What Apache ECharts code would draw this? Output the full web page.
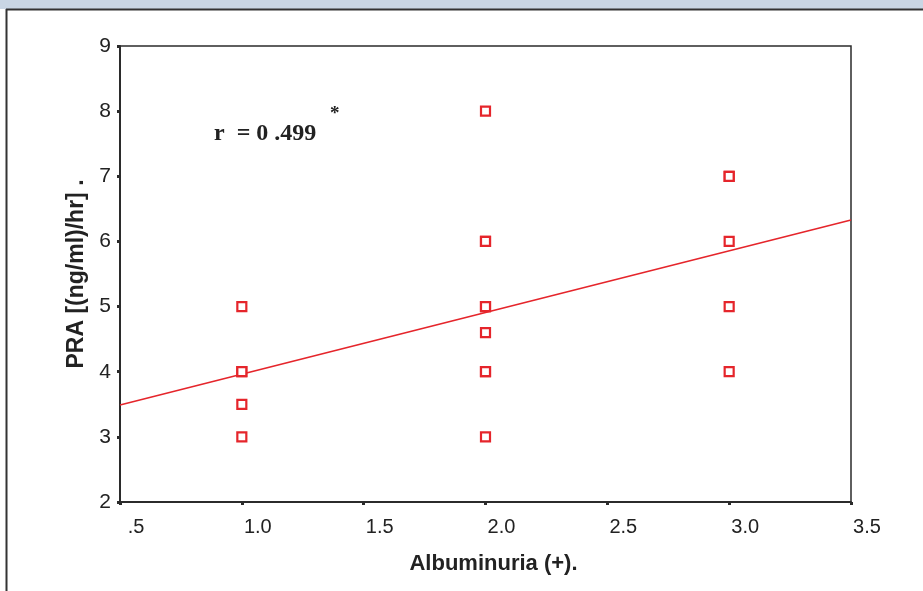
<!DOCTYPE html>
<html>
<head>
<meta charset="utf-8">
<script src="https://cdn.jsdelivr.net/npm/echarts@6/dist/echarts.min.js"></script>
<style>
html,body{margin:0;padding:0;background:#fff;}
#main{width:923px;height:591px;}
</style>
</head>
<body>
<div id="main"></div>
<script>
// Albuminuria grade (x) and PRA (y) observations
const albuminuria = [1, 1, 1, 1, 1, 2, 2, 2, 2, 2, 2, 2, 2, 2, 3, 3, 3, 3, 3];
const pra         = [5, 4, 4, 3.5, 3, 8, 6, 6, 5, 5, 4.6, 4, 4, 3, 7, 7, 6, 5, 4];
// Regression line end points (x, y)
const fitX = [0.5, 3.5];
const fitY = [3.49, 6.33];
const xTickLabels = ['.5', '1.0', '1.5', '2.0', '2.5', '3.0', '3.5'];
const yTickLabels = ['2', '3', '4', '5', '6', '7', '8', '9'];
const annotation = 'r  = 0 .499';

const red = '#e5252b';
const points = albuminuria.map((x, i) => [x, pra[i]]);
const fitLine = fitX.map((x, i) => [x, fitY[i]]);

const chart = echarts.init(document.getElementById('main'));
chart.setOption({
  backgroundColor: '#ffffff',
  animation: false,
  grid: {
    left: 120, right: 72, top: 46, bottom: 89,
    show: true, borderColor: '#2b2b2b', borderWidth: 1.5, backgroundColor: 'transparent'
  },
  xAxis: {
    type: 'value', min: 0.5, max: 3.5, interval: 0.5,
    name: 'Albuminuria (+).', nameLocation: 'middle', nameGap: 51,
    nameTextStyle: { fontFamily: 'Liberation Sans, Arial', fontWeight: 'bold', fontSize: 22, color: '#222', padding: [0, 0, 0, 16] },
    axisLine: { lineStyle: { color: '#2b2b2b', width: 2 } },
    axisTick: { show: true, length: 3, lineStyle: { color: '#2b2b2b', width: 3 } },
    splitLine: { show: false },
    axisLabel: {
      margin: 15, fontFamily: 'Liberation Sans, Arial', fontSize: 20, color: '#222',
      padding: [0, 0, 0, 32],
      formatter: (v) => xTickLabels[Math.round((v - 0.5) / 0.5)]
    }
  },
  yAxis: {
    type: 'value', min: 2, max: 9, interval: 1,
    name: 'PRA [(ng/ml)/hr] .', nameLocation: 'middle', nameGap: 32, nameRotate: 90,
    nameTextStyle: { fontFamily: 'Liberation Sans, Arial', fontWeight: 'bold', fontSize: 23, color: '#222' },
    axisLine: { show: true, lineStyle: { color: '#2b2b2b', width: 2 } },
    axisTick: { show: true, length: 3, lineStyle: { color: '#2b2b2b', width: 3 } },
    splitLine: { show: false },
    axisLabel: {
      margin: 9, fontFamily: 'Liberation Sans, Arial', fontSize: 21, color: '#222',
      formatter: (v) => yTickLabels[Math.round(v - 2)]
    }
  },
  series: [
    {
      type: 'line', data: fitLine, symbol: 'none', silent: true,
      lineStyle: { color: red, width: 1.6 }, z: 2
    },
    {
      type: 'scatter', data: points, symbol: 'rect', symbolSize: 9,
      itemStyle: { color: '#ffffff', borderColor: red, borderWidth: 2.2, opacity: 1 }, z: 3
    }
  ],
  graphic: [
    { type: 'rect', left: 0, top: 0, shape: { width: 923, height: 9 }, style: { fill: '#c9d6e4' }, silent: true },
    { type: 'line', shape: { x1: 6, y1: 9.5, x2: 923, y2: 9.5 }, style: { stroke: '#333', lineWidth: 2 }, silent: true },
    { type: 'line', shape: { x1: 6.5, y1: 9, x2: 6.5, y2: 591 }, style: { stroke: '#333', lineWidth: 2 }, silent: true },
    { type: 'text', left: 214, top: 122, style: { text: annotation, font: 'bold 24px "Liberation Serif", "Times New Roman", serif', fill: '#222' } },
    { type: 'text', left: 330, top: 105, style: { text: '*', font: 'bold 19px "Liberation Serif", "Times New Roman", serif', fill: '#222' } }
  ]
});
</script>
</body>
</html>
